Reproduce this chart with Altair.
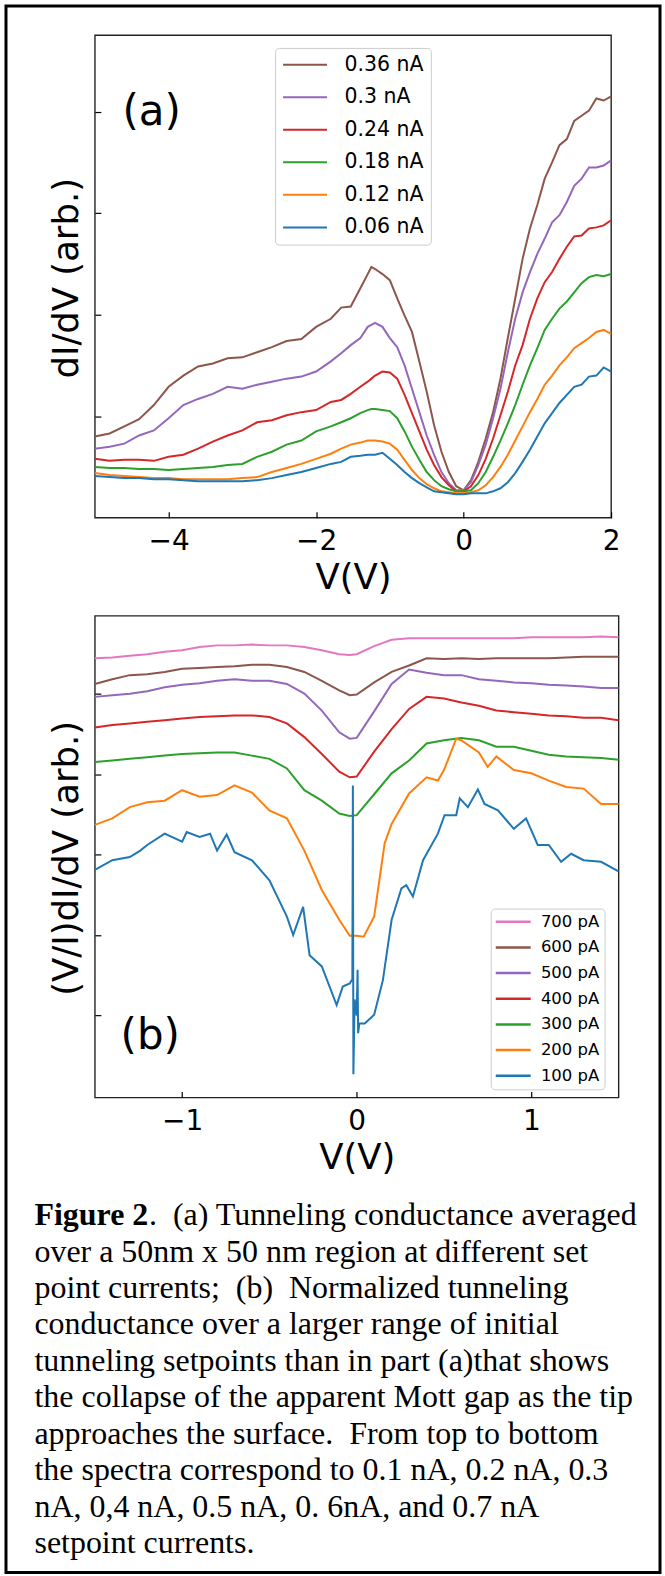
import altair as alt
import pandas as pd

FONT = "DejaVu Sans"
SERIF = "Liberation Serif"

# ---------------- Panel (a): dI/dV vs V ----------------
V_A = [-5.0, -4.8, -4.6, -4.4, -4.2, -4.0, -3.8, -3.6, -3.4, -3.2, -3.0, -2.8, -2.6, -2.4, -2.2, -2.0, -1.8,
       -1.66, -1.53, -1.4, -1.3, -1.25, -1.2, -1.1, -1.0,
       -0.9, -0.8, -0.7, -0.6, -0.5, -0.4, -0.3, -0.2, -0.1, 0.0, 0.1, 0.2, 0.3, 0.4, 0.5, 0.6, 0.7, 0.8, 0.9,
       1.0, 1.1, 1.2, 1.3, 1.4, 1.5, 1.6, 1.7, 1.8, 1.9, 2.0]

A_036 = [0.80, 0.83, 0.90, 0.97, 1.11, 1.29, 1.40, 1.49, 1.52, 1.57, 1.58, 1.63, 1.68, 1.74, 1.76, 1.88, 1.96,
         2.07, 2.08, 2.26, 2.40, 2.47, 2.45, 2.40, 2.34,
         2.16, 1.99, 1.83, 1.54, 1.24, 0.91, 0.65, 0.45, 0.31, 0.27, 0.37, 0.55, 0.78, 1.04, 1.37, 1.77, 2.16, 2.55,
         2.85, 3.08, 3.34, 3.50, 3.67, 3.73, 3.91, 3.96, 4.01, 4.13, 4.11, 4.15]
A_030 = [0.68, 0.70, 0.73, 0.81, 0.86, 0.98, 1.11, 1.17, 1.22, 1.29, 1.27, 1.31, 1.34, 1.37, 1.39, 1.44, 1.54,
         1.62, 1.70, 1.77, 1.88, 1.90, 1.92, 1.88, 1.77,
         1.68, 1.50, 1.27, 1.04, 0.81, 0.62, 0.45, 0.34, 0.27, 0.27, 0.35, 0.52, 0.72, 0.98, 1.27, 1.63, 1.96, 2.22,
         2.42, 2.60, 2.75, 2.91, 2.98, 3.11, 3.27, 3.34, 3.45, 3.45, 3.47, 3.52]
A_024 = [0.58, 0.56, 0.57, 0.57, 0.56, 0.60, 0.62, 0.68, 0.75, 0.81, 0.86, 0.94, 0.96, 1.01, 1.04, 1.06, 1.14,
         1.16, 1.22, 1.29, 1.34, 1.37, 1.40, 1.44, 1.43,
         1.37, 1.21, 1.03, 0.85, 0.67, 0.52, 0.40, 0.32, 0.26, 0.26, 0.31, 0.42, 0.58, 0.78, 1.01, 1.24, 1.50, 1.70,
         1.96, 2.16, 2.32, 2.42, 2.55, 2.67, 2.77, 2.78, 2.85, 2.86, 2.88, 2.93]
A_018 = [0.50, 0.49, 0.49, 0.48, 0.48, 0.47, 0.48, 0.49, 0.50, 0.52, 0.53, 0.60, 0.65, 0.72, 0.76, 0.85, 0.90,
         0.94, 0.98, 1.03, 1.06, 1.07, 1.07, 1.06, 1.05,
         0.98, 0.85, 0.70, 0.57, 0.45, 0.37, 0.31, 0.28, 0.26, 0.26, 0.27, 0.34, 0.45, 0.60, 0.76, 0.93, 1.11, 1.31,
         1.50, 1.67, 1.85, 1.96, 2.06, 2.13, 2.22, 2.31, 2.37, 2.39, 2.38, 2.40]
A_012 = [0.44, 0.42, 0.41, 0.40, 0.39, 0.39, 0.38, 0.38, 0.38, 0.38, 0.39, 0.40, 0.45, 0.49, 0.53, 0.58, 0.63,
         0.68, 0.72, 0.74, 0.76, 0.76, 0.76, 0.75, 0.73,
         0.67, 0.57, 0.47, 0.39, 0.33, 0.29, 0.26, 0.25, 0.24, 0.24, 0.25, 0.27, 0.32, 0.40, 0.50, 0.62, 0.76, 0.90,
         1.04, 1.17, 1.31, 1.40, 1.50, 1.58, 1.67, 1.72, 1.77, 1.83, 1.85, 1.81]
A_006 = [0.41, 0.40, 0.39, 0.39, 0.38, 0.38, 0.37, 0.36, 0.36, 0.36, 0.36, 0.37, 0.39, 0.42, 0.45, 0.49, 0.53,
         0.55, 0.60, 0.61, 0.62, 0.62, 0.62, 0.64, 0.58,
         0.52, 0.45, 0.39, 0.34, 0.30, 0.26, 0.25, 0.24, 0.23, 0.23, 0.24, 0.24, 0.24, 0.26, 0.29, 0.35, 0.44, 0.55,
         0.67, 0.80, 0.93, 1.03, 1.13, 1.21, 1.29, 1.31, 1.39, 1.40, 1.48, 1.44]

LABELS_A = ["0.36 nA", "0.3 nA", "0.24 nA", "0.18 nA", "0.12 nA", "0.06 nA"]
COLORS_A = ["#8c564b", "#9467bd", "#d62728", "#2ca02c", "#ff7f0e", "#1f77b4"]
SERIES_A = [A_036, A_030, A_024, A_018, A_012, A_006]
XTICKS_A = [-4, -2, 0, 2]
YTICKS_A = [1, 2, 3, 4]

# ---------------- Panel (b): (V/I)dI/dV vs V ----------------
V_B = [-1.5, -1.4, -1.3, -1.2, -1.1, -1.0, -0.9, -0.8, -0.7, -0.6, -0.5, -0.4, -0.3, -0.2, -0.1, -0.04, 0.0,
       0.1, 0.2, 0.3, 0.4, 0.5, 0.6, 0.7, 0.8, 0.9, 1.0, 1.1, 1.2, 1.3, 1.4, 1.5]
B_700 = [5.44, 5.45, 5.47, 5.49, 5.52, 5.54, 5.58, 5.60, 5.60, 5.61, 5.60, 5.60, 5.58, 5.54, 5.49, 5.48, 5.49,
         5.59, 5.67, 5.69, 5.69, 5.69, 5.69, 5.69, 5.69, 5.69, 5.70, 5.70, 5.70, 5.70, 5.71, 5.70]
B_600 = [5.12, 5.18, 5.23, 5.24, 5.27, 5.31, 5.32, 5.33, 5.34, 5.36, 5.36, 5.33, 5.27, 5.16, 5.04, 4.98, 4.99,
         5.14, 5.27, 5.35, 5.44, 5.43, 5.44, 5.43, 5.44, 5.44, 5.44, 5.44, 5.45, 5.46, 5.46, 5.46]
B_500 = [4.96, 4.98, 5.00, 5.03, 5.08, 5.11, 5.13, 5.16, 5.18, 5.16, 5.16, 5.12, 5.00, 4.79, 4.52, 4.44, 4.45,
         4.78, 5.12, 5.30, 5.26, 5.23, 5.23, 5.18, 5.16, 5.14, 5.13, 5.11, 5.10, 5.09, 5.07, 5.07]
B_400 = [4.58, 4.61, 4.63, 4.65, 4.67, 4.69, 4.71, 4.72, 4.73, 4.73, 4.71, 4.63, 4.46, 4.25, 4.03, 3.96, 3.97,
         4.28, 4.56, 4.81, 4.96, 4.94, 4.89, 4.85, 4.79, 4.77, 4.75, 4.73, 4.72, 4.70, 4.70, 4.67]
B_300 = [4.15, 4.17, 4.19, 4.21, 4.23, 4.25, 4.26, 4.27, 4.27, 4.23, 4.19, 4.07, 3.80, 3.67, 3.51, 3.48, 3.49,
         3.75, 4.01, 4.17, 4.38, 4.42, 4.45, 4.42, 4.34, 4.34, 4.29, 4.24, 4.22, 4.21, 4.20, 4.18]
V_B200 = [-1.5, -1.4, -1.3, -1.2, -1.1, -1.0, -0.9, -0.8, -0.7, -0.6, -0.5, -0.4, -0.3, -0.2, -0.1, -0.04,
          0.0, 0.04, 0.1, 0.16, 0.2, 0.3, 0.4, 0.465, 0.5, 0.57, 0.6, 0.7, 0.75, 0.8, 0.9,
          1.0, 1.1, 1.2, 1.3, 1.4, 1.5]
B_200 = [3.37, 3.45, 3.59, 3.65, 3.67, 3.80, 3.72, 3.74, 3.86, 3.77, 3.55, 3.45, 3.05, 2.56, 2.19, 1.99,
         1.99, 1.98, 2.23, 3.14, 3.38, 3.76, 3.96, 3.92, 4.05, 4.44, 4.42, 4.27, 4.09, 4.22, 4.05,
         4.01, 3.92, 3.84, 3.82, 3.63, 3.63]
V_B100 = [-1.5, -1.4, -1.3, -1.24, -1.2, -1.1, -1.0, -0.974, -0.9, -0.84, -0.8, -0.745, -0.7, -0.6, -0.5, -0.4,
          -0.364, -0.307, -0.27, -0.2, -0.115, -0.08, -0.04, -0.025, -0.022, -0.019, -0.012, 0.0, 0.005, 0.008,
          0.015, 0.046, 0.1, 0.15, 0.2, 0.256, 0.284, 0.322, 0.38, 0.465, 0.503, 0.57, 0.59, 0.637, 0.694, 0.732,
          0.809, 0.9, 0.97, 1.037, 1.1, 1.171, 1.228, 1.3, 1.4, 1.5]
B_100 = [2.81, 2.93, 2.97, 3.05, 3.12, 3.26, 3.16, 3.28, 3.22, 3.26, 3.05, 3.25, 3.03, 2.93, 2.68, 2.23,
         2.00, 2.35, 1.75, 1.61, 1.13, 1.36, 1.40, 1.45, 3.86, 0.27, 1.20, 1.00, 1.57, 0.78,
         0.90, 0.90, 1.01, 1.44, 2.19, 2.58, 2.62, 2.48, 2.93, 3.26, 3.49, 3.49, 3.70, 3.59, 3.81, 3.63,
         3.55, 3.32, 3.45, 3.12, 3.12, 2.91, 3.01, 2.93, 2.91, 2.79]

LABELS_B = ["700 pA", "600 pA", "500 pA", "400 pA", "300 pA", "200 pA", "100 pA"]
COLORS_B = ["#e377c2", "#8c564b", "#9467bd", "#d62728", "#2ca02c", "#ff7f0e", "#1f77b4"]
SERIES_B = [(V_B, B_700), (V_B, B_600), (V_B, B_500), (V_B, B_400), (V_B, B_300), (V_B200, B_200), (V_B100, B_100)]
XTICKS_B = [-1, 0, 1]
YTICKS_B = [1, 2, 3, 4, 5]

CAPTION_BOLD = "Figure 2"
CAPTION_LINES = [
    ".\u00a0 (a) Tunneling conductance averaged",
    "over a 50nm x 50 nm region at different set",
    "point currents;\u00a0 (b)\u00a0 Normalized tunneling",
    "conductance over a larger range of initial",
    "tunneling setpoints than in part (a)that shows",
    "the collapse of the apparent Mott gap as the tip",
    "approaches the surface.\u00a0 From top to bottom",
    "the spectra correspond to 0.1 nA, 0.2 nA, 0.3",
    "nA, 0,4 nA, 0.5 nA, 0. 6nA, and 0.7 nA",
    "setpoint currents.",
]

# ---------------- build tables ----------------
rows = []
for lab, ys in zip(LABELS_A, SERIES_A):
    for i, (v, y) in enumerate(zip(V_A, ys)):
        rows.append({"V": v, "val": y, "set": lab, "i": i})
df_a = pd.DataFrame(rows)

rows = []
for lab, (xs, ys) in zip(LABELS_B, SERIES_B):
    for i, (v, y) in enumerate(zip(xs, ys)):
        rows.append({"V": v, "val": y, "set": lab, "i": i})
df_b = pd.DataFrame(rows)


def x_axis(values):
    return alt.Axis(values=values, format="~g", title="V(V)", grid=False, domain=False, tickSize=6, offset=-6,
                    tickColor="black", tickWidth=1.2, labelFontSize=28, labelFont=FONT, labelColor="black",
                    labelPadding=10, labelFlush=False, labelOverlap=False,
                    titleFontSize=35.5, titleFont=FONT, titleFontWeight="normal", titleColor="black",
                    titleY=77, titleBaseline="alphabetic")


def y_axis(values, title, ty):
    return alt.Axis(values=values, labels=False, grid=False, domain=False, tickSize=6, offset=-6,
                    tickColor="black", tickWidth=1.2, title=title, titleFontSize=35.5, titleFont=FONT,
                    titleFontWeight="normal", titleColor="black", titleX=-34.5, titleY=ty, titleAngle=270,
                    titleAlign="center", titleBaseline="middle")


leg_a = alt.Legend(title=None, orient="none", legendX=180.5, legendY=12.8, direction="vertical",
                   symbolType="stroke", symbolSize=1936, symbolStrokeWidth=2, symbolOffset=0.5,
                   labelFontSize=20.5, labelFont=FONT, labelColor="black", labelOffset=16.5,
                   clipHeight=20.5, rowPadding=11.6,
                   padding=6.5, strokeColor="#cccccc", fillColor="white", cornerRadius=4,
                   labelExpr="datum.label + '\u00a0'")
leg_b = alt.Legend(title=None, orient="none", legendX=396.5, legendY=293.25, direction="vertical",
                   symbolType="stroke", symbolSize=1296, symbolStrokeWidth=2.5, symbolOffset=-2.5,
                   labelFontSize=16.5, labelFont=FONT, labelColor="black", labelOffset=8.7,
                   clipHeight=16.5, rowPadding=8.7,
                   padding=5, strokeColor="#cccccc", fillColor="white", cornerRadius=4,
                   labelExpr="datum.label + '\u00a0\u00a0'")

lines_a = alt.Chart(df_a).mark_line(strokeWidth=2).encode(
    x=alt.X("V:Q", scale=alt.Scale(domain=[-5, 2], nice=False, zero=False), axis=x_axis(XTICKS_A)),
    y=alt.Y("val:Q", scale=alt.Scale(domain=[0, 4.754], nice=False, zero=False),
            axis=y_axis(YTICKS_A, "dI/dV (arb.)", 243)),
    color=alt.Color("set:N", scale=alt.Scale(domain=LABELS_A, range=COLORS_A), legend=leg_a),
    order=alt.Order("i:Q"),
)
tag_a = alt.Chart(pd.DataFrame({"V": [-4.23], "val": [4.0], "t": ["(a)"]})).mark_text(
    fontSize=42, font=FONT, align="center", baseline="middle", color="black"
).encode(x="V:Q", y="val:Q", text="t:N")
frame = alt.Chart(pd.DataFrame({"k": [0]})).mark_rect(filled=False, stroke="black", strokeWidth=3).encode(
    x=alt.value(-89), x2=alt.value(566), y=alt.value(-29.2), y2=alt.value(1539.8)
)
panel_a = alt.layer(lines_a, tag_a, frame).properties(width=517, height=483.3)

lines_b = alt.Chart(df_b).mark_line(strokeWidth=2).encode(
    x=alt.X("V:Q", scale=alt.Scale(domain=[-1.5, 1.5], nice=False, zero=False), axis=x_axis(XTICKS_B)),
    y=alt.Y("val:Q", scale=alt.Scale(domain=[-0.019, 5.968], nice=False, zero=False),
            axis=y_axis(YTICKS_B, "(V/I)dI/dV (arb.)", 242.5)),
    color=alt.Color("set:N", scale=alt.Scale(domain=LABELS_B, range=COLORS_B), legend=leg_b),
    order=alt.Order("i:Q"),
)
tag_b = alt.Chart(pd.DataFrame({"V": [-1.183], "val": [0.75], "t": ["(b)"]})).mark_text(
    fontSize=42, font=FONT, align="center", baseline="middle", color="black"
).encode(x="V:Q", y="val:Q", text="t:N")
panel_b = alt.layer(lines_b, tag_b).properties(width=524.5, height=482.5)

# ---------------- caption ----------------
cap_df = pd.DataFrame({"line": list(range(1, len(CAPTION_LINES))), "text": CAPTION_LINES[1:]})
yscale = alt.Scale(domain=[0, 9], range=[29.8, 358.3])
cap_rest = alt.Chart(cap_df).mark_text(font=SERIF, fontSize=32, align="left", baseline="alphabetic",
                                        color="black").encode(
    x=alt.value(-60.5), y=alt.Y("line:Q", scale=yscale, axis=None), text="text:N")
cap_bold = alt.Chart(pd.DataFrame({"line": [0], "text": [CAPTION_BOLD]})).mark_text(
    font=SERIF, fontSize=32, fontWeight="bold", align="left", baseline="alphabetic", color="black").encode(
    x=alt.value(-60.5), y=alt.Y("line:Q", scale=yscale, axis=None), text="text:N")
cap_first = alt.Chart(pd.DataFrame({"line": [0], "text": [CAPTION_LINES[0]]})).mark_text(
    font=SERIF, fontSize=32, align="left", baseline="alphabetic", color="black").encode(
    x=alt.value(54.2), y=alt.Y("line:Q", scale=yscale, axis=None), text="text:N")
caption = alt.layer(cap_bold, cap_first, cap_rest).properties(
    width=560, height=360, view=alt.ViewBackground(stroke="transparent"))

chart = alt.vconcat(panel_a, panel_b, caption, spacing=97.5, bounds="flush").resolve_scale(
    color="independent").resolve_legend(color="independent").properties(
    padding={"left": 3, "top": 2, "right": 2, "bottom": 2}, background="white"
).configure_view(stroke="#222222", strokeWidth=1.4)

chart.save("out.html", embed_options={"renderer": "svg", "actions": False})
